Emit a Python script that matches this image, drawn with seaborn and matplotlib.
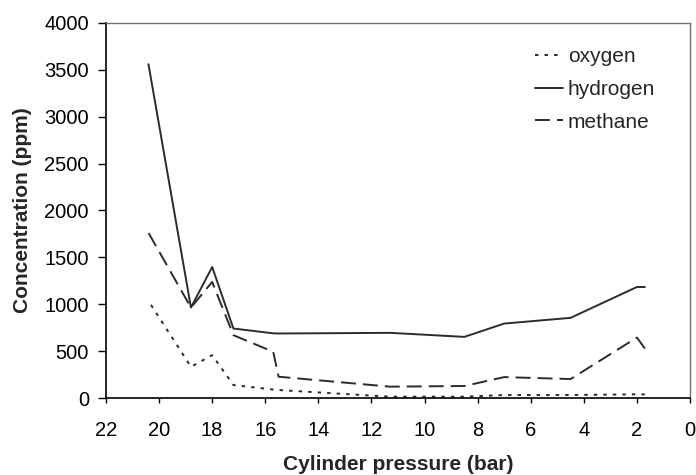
import matplotlib
matplotlib.use("Agg")
import matplotlib.pyplot as plt
import seaborn as sns
import pandas as pd

pressure = [20.4, 18.8, 18.0, 17.2, 15.7, 15.5, 11.3, 8.5, 7.0, 4.5, 2.0, 1.7]
oxygen = [1035, 333, 457, 138, 90, 85, 14, 14, 32, 32, 39, 39]
hydrogen = [3560, 965, 1397, 741, 690, 688, 695, 652, 794, 855, 1184, 1184]
methane = [1762, 965, 1238, 670, 493, 227, 121, 128, 223, 202, 645, 528]
series_names = ["oxygen", "hydrogen", "methane"]
x_ticks = [22, 20, 18, 16, 14, 12, 10, 8, 6, 4, 2, 0]
y_ticks = [0, 500, 1000, 1500, 2000, 2500, 3000, 3500, 4000]

df = pd.concat([
    pd.DataFrame({"pressure": pressure, "conc": vals, "gas": name})
    for name, vals in zip(series_names, [oxygen, hydrogen, methane])
])

sns.set_theme(style="white")
plt.rcParams["font.family"] = ["Liberation Sans", "DejaVu Sans"]

fig = plt.figure(figsize=(6.96, 4.75), dpi=100)
ax = fig.add_axes([0.1523, 0.1621, 0.8391, 0.7895])

lw = 1.4
dashes = {"oxygen": (1.8, 3.1), "hydrogen": "", "methane": (7.7, 3.6)}
sns.lineplot(data=df, x="pressure", y="conc", hue="gas", style="gas",
             hue_order=series_names, style_order=series_names,
             palette={n: "#2b2b2b" for n in series_names},
             dashes=dashes, linewidth=lw, ax=ax, legend=True)

ax.set_xlim(22, 0)
ax.set_ylim(0, 4000)
ax.set_xticks(x_ticks)
ax.set_yticks(y_ticks)
ax.tick_params(axis="both", labelsize=14.5, colors="black", direction="out",
               width=1, bottom=True, left=True)
ax.tick_params(axis="y", length=5.8, pad=6.5)
ax.tick_params(axis="x", length=3.6, pad=13.3)

for side in ["left", "bottom"]:
    ax.spines[side].set_color("black")
    ax.spines[side].set_linewidth(1.2)
for side in ["top", "right"]:
    ax.spines[side].set_color("#707070")
    ax.spines[side].set_linewidth(1.0)

ax.set_xlabel("Cylinder pressure (bar)", fontsize=15, fontweight="bold")
ax.set_ylabel("Concentration (ppm)", fontsize=15, fontweight="bold")
ax.xaxis.set_label_coords(0.5, -0.152)
ax.yaxis.set_label_coords(-0.127, 0.5)

leg = ax.legend(loc="upper left", bbox_to_anchor=(525 / 696, 1 - 37 / 475),
                bbox_transform=fig.transFigure, frameon=False, borderpad=0,
                fontsize=15, handlelength=1.3, handletextpad=0.25,
                labelspacing=0.65)

fig.savefig("out.png", dpi=100)
